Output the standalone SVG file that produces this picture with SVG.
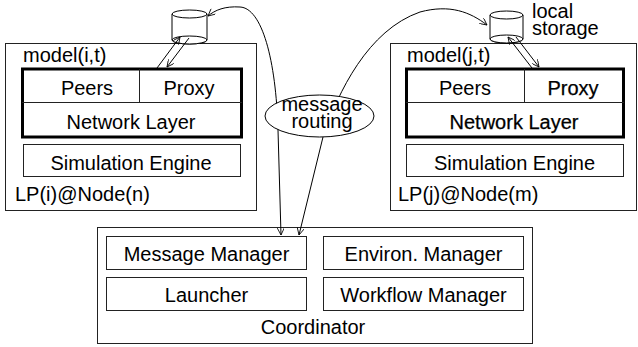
<svg xmlns="http://www.w3.org/2000/svg" width="638" height="347" viewBox="0 0 638 347">
<defs>
<style>
.box{fill:#fff;stroke:#222;stroke-width:1}
.thick{fill:#fff;stroke:#000;stroke-width:3}
.div{stroke:#222;stroke-width:1;fill:none}
.t{font-family:"Liberation Sans",Arial,sans-serif;font-size:20px;fill:#000}
.c{text-anchor:middle}
.dk{stroke:#000;stroke-width:0.25}
.con{fill:none;stroke:#000;stroke-width:1}
.cyl{fill:#fff;stroke:#000;stroke-width:1}
</style>
<marker id="ah" viewBox="0 0 10 10" refX="10" refY="5" markerWidth="9" markerHeight="7" markerUnits="userSpaceOnUse" orient="auto-start-reverse">
<path d="M0,0 L10,5 L0,10" fill="none" stroke="#000" stroke-width="1.2"/>
</marker>
</defs>
<rect width="638" height="347" fill="#fff"/>

<g id="lp-left">
<rect class="box" x="5.5" y="43.5" width="251" height="167"/>
<text class="t" x="23" y="62">model(i,t)</text>
<rect class="thick" x="22.5" y="69" width="219" height="68"/>
<line class="div" x1="22" y1="102.5" x2="242" y2="102.5"/>
<line class="div" x1="139.5" y1="69" x2="139.5" y2="102"/>
<text class="t c" x="87" y="95">Peers</text>
<text class="t c" x="189" y="95">Proxy</text>
<text class="t c" x="131" y="128.5">Network Layer</text>
<rect class="box" x="23.5" y="144.5" width="217" height="32"/>
<text class="t c" x="131" y="169.5">Simulation Engine</text>
<text class="t" x="15" y="201">LP(i)@Node(n)</text>
</g>

<g id="lp-right">
<rect class="box" x="390.5" y="43.5" width="246" height="167"/>
<text class="t" x="407" y="62">model(j,t)</text>
<rect class="thick" x="406.5" y="69" width="217" height="68"/>
<line class="div" x1="406" y1="102.5" x2="624" y2="102.5"/>
<line class="div" x1="524.5" y1="69" x2="524.5" y2="102"/>
<text class="t c" x="465" y="95">Peers</text>
<text class="t c dk" x="573" y="95">Proxy</text>
<text class="t c dk" x="514" y="128.5">Network Layer</text>
<rect class="box" x="406.5" y="144.5" width="217" height="32"/>
<text class="t c" x="514.5" y="169.5">Simulation Engine</text>
<text class="t" x="398" y="201">LP(j)@Node(m)</text>
</g>

<g id="storage-left">
<path class="cyl" d="M172,14 L172,40 A17.5,4 0 0 0 207,40 L207,14 Z"/>
<ellipse class="cyl" cx="189.5" cy="14" rx="17.5" ry="4"/>
<ellipse class="cyl" cx="189.5" cy="40" rx="17.5" ry="4"/>
</g>

<g id="storage-right">
<path class="cyl" d="M490,15 L490,39 A16.5,4 0 0 0 523,39 L523,15 Z"/>
<ellipse class="cyl" cx="506.5" cy="15" rx="16.5" ry="4"/>
<ellipse class="cyl" cx="506.5" cy="39" rx="16.5" ry="4"/>
<text class="t" x="532" y="18">local</text>
<text class="t" x="532" y="35">storage</text>
</g>

<g id="coordinator">
<rect class="box" x="97.5" y="227.5" width="435" height="116"/>
<rect class="box" x="106.5" y="236.5" width="200" height="33"/>
<text class="t c" x="206.5" y="260.5">Message Manager</text>
<rect class="box" x="323.5" y="236.5" width="200" height="33"/>
<text class="t c" x="423.5" y="260.5">Environ. Manager</text>
<rect class="box" x="106.5" y="277.5" width="200" height="33"/>
<text class="t c" x="206.5" y="301.5">Launcher</text>
<rect class="box" x="323.5" y="277.5" width="200" height="33"/>
<text class="t c" x="423.5" y="301.5">Workflow Manager</text>
<text class="t c" x="313" y="334">Coordinator</text>
</g>

<g id="connectors">
<path class="con" marker-start="url(#ah)" marker-end="url(#ah)" d="M281,235 L278,130 C276,60 262,8 240,7 C225,6 215,10 208,16"/>
<path class="con" marker-start="url(#ah)" marker-end="url(#ah)" d="M299,235 L323,137 C338,92 368,30 420,12 C450,4 470,12 487,25"/>
<line class="con" marker-end="url(#ah)" x1="157" y1="68" x2="180" y2="37"/>
<line class="con" marker-end="url(#ah)" x1="189" y1="38" x2="167" y2="67"/>
<line class="con" marker-end="url(#ah)" x1="532" y1="68" x2="508" y2="37"/>
<line class="con" marker-end="url(#ah)" x1="516" y1="37" x2="539" y2="67"/>
</g>

<g id="routing">
<ellipse cx="319.5" cy="116" rx="54.5" ry="21" fill="#fff" stroke="#000" stroke-width="1"/>
<text class="t c" x="322" y="111">message</text>
<text class="t c" x="322" y="128">routing</text>
</g>
</svg>
